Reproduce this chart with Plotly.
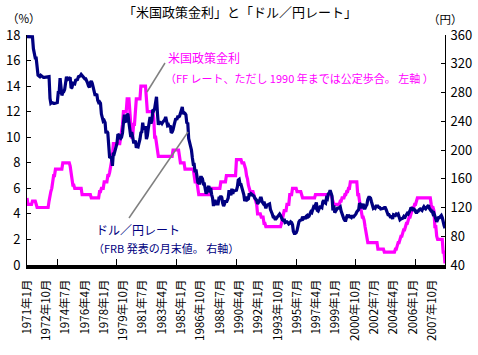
import pandas as pd
import plotly.graph_objects as go

# USD/JPY month-end rate (yen), 1971-01 .. 2008-12, one row per year
usdjpy = [
    357.7, 357.6, 357.5, 357.6, 357.5, 357.6, 357.4, 341, 330, 328, 328, 315,
    304, 303, 302, 304, 303, 301, 301, 301, 301, 301, 302, 302,
    302, 272, 265, 266, 265, 265, 265, 265, 266, 266, 280, 280,
    300, 287, 276, 280, 281, 284, 298, 302, 298, 299, 300, 301,
    286, 287, 293, 293, 292, 297, 297, 298, 302, 302, 303, 305,
    303, 301, 300, 299, 299, 297, 293, 289, 287, 294, 296, 293,
    288, 283, 277, 277, 278, 269, 266, 267, 265, 250, 244, 240,
    241, 238, 223, 226, 224, 205, 189, 190, 189, 178, 196, 195,
    200, 201, 209, 222, 221, 217, 216, 218, 224, 238, 249, 240,
    239, 250, 249, 238, 223, 218, 225, 215, 211, 211, 213, 203,
    206, 205, 209, 215, 224, 225, 238, 228, 231, 231, 215, 220,
    230, 236, 246, 237, 241, 256, 255, 258, 270, 274, 251, 235,
    240, 236, 239, 237, 239, 240, 242, 246, 236, 234, 235, 232,
    234, 224, 225, 228, 234, 238, 244, 242, 246, 246, 247, 251,
    255, 260, 250, 252, 251, 249, 237, 238, 216, 211, 202, 200,
    189, 180, 180, 169, 173, 165, 155, 154, 154, 162, 162, 160,
    153, 153, 146, 139, 144, 147, 150, 141, 147, 138, 133, 122,
    129, 129, 125, 125, 125, 133, 133, 136, 134, 126, 122, 125,
    130, 127, 132, 133, 144, 140, 137, 146, 139, 143, 143, 143,
    144, 149, 158, 159, 152, 152, 147, 144, 138, 129, 133, 135,
    131, 132, 140, 136, 139, 138, 137, 136, 133, 131, 130, 125,
    127, 129, 133, 133, 128, 126, 128, 123, 119, 123, 124, 124,
    125, 117, 115, 111, 107, 107, 104, 104, 106, 108, 109, 111,
    109, 104, 103, 102, 104, 99, 100, 100, 99, 97, 98, 100,
    99, 96, 87, 84, 84, 85, 88, 97, 100, 102, 102, 103,
    107, 105, 107, 104, 108, 109, 107, 108, 111, 114, 113, 116,
    121, 120, 124, 127, 116, 115, 118, 121, 121, 120, 128, 130,
    127, 126, 133, 132, 139, 140, 144, 141, 136, 116, 123, 113,
    116, 119, 119, 119, 121, 121, 115, 110, 106, 104, 102, 102,
    107, 110, 106, 108, 107, 106, 109, 106, 108, 109, 111, 114,
    116, 117, 126, 124, 119, 124, 125, 119, 119, 122, 124, 131,
    134, 134, 133, 128, 124, 119, 120, 119, 122, 122, 122, 120,
    120, 118, 118, 119, 119, 120, 120, 117, 111, 110, 110, 107,
    106, 109, 104, 110, 110, 109, 111, 110, 111, 106, 103, 104,
    104, 105, 107, 105, 108, 111, 112, 111, 113, 116, 120, 118,
    117, 118, 117, 114, 112, 115, 115, 117, 118, 117, 116, 119,
    121, 119, 118, 120, 122, 123, 119, 116, 115, 115, 111, 112,
    106, 104, 100, 104, 106, 106, 108, 109, 106, 98, 95, 91,
]

# US policy rate (%), discount rate until 1989, FF target from 1990
policy_rate = [
    5.25, 4.75, 4.75, 4.75, 4.75, 4.75, 5.0, 5.0, 5.0, 5.0, 4.75, 4.5,
    4.5, 4.5, 4.5, 4.5, 4.5, 4.5, 4.5, 4.5, 4.5, 4.5, 4.5, 4.5,
    5.0, 5.5, 5.75, 6.0, 6.5, 7.0, 7.0, 7.5, 7.5, 7.5, 7.5, 7.5,
    7.5, 7.5, 7.5, 8.0, 8.0, 8.0, 8.0, 8.0, 8.0, 8.0, 8.0, 7.75,
    7.25, 6.75, 6.25, 6.25, 6.0, 6.0, 6.0, 6.0, 6.0, 6.0, 6.0, 6.0,
    5.5, 5.5, 5.5, 5.5, 5.5, 5.5, 5.5, 5.5, 5.5, 5.5, 5.25, 5.25,
    5.25, 5.25, 5.25, 5.25, 5.25, 5.25, 5.25, 5.75, 5.75, 6.0, 6.0, 6.0,
    6.5, 6.5, 6.5, 6.5, 7.0, 7.0, 7.25, 7.75, 8.0, 8.5, 9.5, 9.5,
    9.5, 9.5, 9.5, 9.5, 9.5, 9.5, 10.0, 10.5, 11.0, 12.0, 12.0, 12.0,
    12.0, 13.0, 13.0, 13.0, 12.0, 11.0, 10.0, 10.0, 11.0, 11.0, 12.0, 13.0,
    13.0, 13.0, 13.0, 13.0, 14.0, 14.0, 14.0, 14.0, 14.0, 14.0, 13.0, 12.0,
    12.0, 12.0, 12.0, 12.0, 12.0, 12.0, 11.5, 10.0, 10.0, 9.5, 9.0, 8.5,
    8.5, 8.5, 8.5, 8.5, 8.5, 8.5, 8.5, 8.5, 8.5, 8.5, 8.5, 8.5,
    8.5, 8.5, 8.5, 9.0, 9.0, 9.0, 9.0, 9.0, 9.0, 9.0, 8.5, 8.0,
    8.0, 8.0, 8.0, 8.0, 7.5, 7.5, 7.5, 7.5, 7.5, 7.5, 7.5, 7.5,
    7.5, 7.5, 7.0, 6.5, 6.5, 6.5, 6.0, 5.5, 5.5, 5.5, 5.5, 5.5,
    5.5, 5.5, 5.5, 5.5, 5.5, 5.5, 5.5, 5.5, 6.0, 6.0, 6.0, 6.0,
    6.0, 6.0, 6.0, 6.0, 6.0, 6.0, 6.0, 6.5, 6.5, 6.5, 6.5, 6.5,
    6.5, 7.0, 7.0, 7.0, 7.0, 7.0, 7.0, 7.0, 7.0, 7.0, 7.0, 7.0,
    8.25, 8.25, 8.25, 8.25, 8.25, 8.25, 8.0, 8.0, 8.0, 7.75, 7.5, 7.0,
    6.75, 6.25, 6.0, 5.75, 5.75, 5.75, 5.75, 5.5, 5.25, 5.0, 4.75, 4.0,
    4.0, 4.0, 4.0, 3.75, 3.75, 3.75, 3.25, 3.25, 3.0, 3.0, 3.0, 3.0,
    3.0, 3.0, 3.0, 3.0, 3.0, 3.0, 3.0, 3.0, 3.0, 3.0, 3.0, 3.0,
    3.0, 3.25, 3.5, 3.75, 4.25, 4.25, 4.25, 4.75, 4.75, 4.75, 5.5, 5.5,
    5.5, 6.0, 6.0, 6.0, 6.0, 6.0, 5.75, 5.75, 5.75, 5.75, 5.75, 5.5,
    5.25, 5.25, 5.25, 5.25, 5.25, 5.25, 5.25, 5.25, 5.25, 5.25, 5.25, 5.25,
    5.25, 5.25, 5.5, 5.5, 5.5, 5.5, 5.5, 5.5, 5.5, 5.5, 5.5, 5.5,
    5.5, 5.5, 5.5, 5.5, 5.5, 5.5, 5.5, 5.5, 5.25, 5.0, 4.75, 4.75,
    4.75, 4.75, 4.75, 4.75, 4.75, 5.0, 5.0, 5.25, 5.25, 5.25, 5.5, 5.5,
    5.75, 5.75, 6.0, 6.0, 6.5, 6.5, 6.5, 6.5, 6.5, 6.5, 6.5, 6.5,
    5.5, 5.5, 5.0, 4.5, 4.0, 3.75, 3.75, 3.5, 3.0, 2.5, 2.0, 1.75,
    1.75, 1.75, 1.75, 1.75, 1.75, 1.75, 1.75, 1.75, 1.75, 1.75, 1.25, 1.25,
    1.25, 1.25, 1.25, 1.25, 1.25, 1.0, 1.0, 1.0, 1.0, 1.0, 1.0, 1.0,
    1.0, 1.0, 1.0, 1.0, 1.0, 1.25, 1.25, 1.5, 1.75, 1.75, 2.0, 2.25,
    2.25, 2.5, 2.75, 2.75, 3.0, 3.25, 3.25, 3.5, 3.75, 3.75, 4.0, 4.25,
    4.5, 4.5, 4.75, 4.75, 5.0, 5.25, 5.25, 5.25, 5.25, 5.25, 5.25, 5.25,
    5.25, 5.25, 5.25, 5.25, 5.25, 5.25, 5.25, 5.25, 4.75, 4.5, 4.5, 4.25,
    3.0, 3.0, 2.25, 2.0, 2.0, 2.0, 2.0, 2.0, 2.0, 1.0, 1.0, 0.125,
]

months = pd.date_range("1971-01-01", periods=len(usdjpy), freq="MS")
tick_dates = months[::21]
tick_text = [f"{d.year}年{d.month}月" for d in tick_dates]

left_ticks = list(range(0, 19, 2))
right_ticks = list(range(40, 361, 40))

FONT = "Noto Sans CJK JP"
NAVY = "#000080"
MAGENTA = "#FF00FF"

fig = go.Figure()
fig.add_trace(go.Scatter(x=months, y=policy_rate, mode="lines",
                         line=dict(color=MAGENTA, width=3.2), yaxis="y",
                         showlegend=False, hoverinfo="skip"))
fig.add_trace(go.Scatter(x=months, y=usdjpy, mode="lines",
                         line=dict(color=NAVY, width=3.2), yaxis="y2",
                         showlegend=False, hoverinfo="skip"))

L, R, T, B = 27, 33, 35, 90
W, H = 478, 355
pw, ph = W - L - R, H - T - B


def px(x):
    return (x - L) / pw


def py(y):
    return (H - B - y) / ph


fig.update_layout(
    width=W, height=H,
    margin=dict(l=L, r=R, t=T, b=B, pad=0, autoexpand=False),
    paper_bgcolor="white", plot_bgcolor="white",
    font=dict(family=FONT, color="black", size=12),
    xaxis=dict(
        range=[months[0], months[-1]], automargin=False,
        tickvals=tick_dates, ticktext=tick_text, tickangle=-90,
        ticks="", showgrid=False, zeroline=False,
        showline=True, linecolor="black", linewidth=4,
        tickfont=dict(size=11.5, family=FONT), ticklabelstandoff=6,
        minor=dict(ticks="inside", tick0="1973-10-01", dtick="M65",
                   ticklen=6, tickcolor="black", tickwidth=1, showgrid=False),
    ),
    yaxis=dict(
        range=[0, 18], tickvals=left_ticks, ticks="inside", ticklen=4,
        tickcolor="black", showgrid=False, zeroline=False, automargin=False,
        showline=True, linecolor="black", linewidth=1,
        tickfont=dict(size=13, family=FONT), ticklabelstandoff=3,
    ),
    yaxis2=dict(
        range=[40, 360], tickvals=right_ticks, ticks="inside", ticklen=4,
        tickcolor="black", showgrid=False, zeroline=False, overlaying="y",
        side="right", showline=True, linecolor="black", linewidth=1,
        automargin=False,
        tickfont=dict(size=13, family=FONT), ticklabelstandoff=2,
    ),
)

ann = [
    dict(text="「米国政策金利」と「ドル／円レート」", x=px(240), y=py(12), size=13,
         color="black", xanchor="center"),
    dict(text="（%）", x=px(24), y=py(18), size=11.5, color="black", xanchor="center"),
    dict(text="（円）", x=px(445), y=py(19), size=11.5, color="black", xanchor="center"),
    dict(text="米国政策金利", x=px(166), y=py(57), size=12, color=MAGENTA, xanchor="left"),
    dict(text="（FF レート、ただし 1990 年までは公定歩合。 左軸 ）", x=px(163), y=py(78),
         size=11, color=MAGENTA, xanchor="left"),
    dict(text="ドル／円レート", x=px(94), y=py(229), size=12, color=NAVY, xanchor="left"),
    dict(text="（FRB 発表の月末値。 右軸）", x=px(91), y=py(248), size=11, color=NAVY,
         xanchor="left"),
]
for a in ann:
    fig.add_annotation(text=a["text"], x=a["x"], y=a["y"], xref="paper", yref="paper",
                       xanchor=a["xanchor"], yanchor="middle", showarrow=False,
                       font=dict(size=a["size"], color=a["color"], family=FONT))

for (x0, y0, x1, y1) in [(147, 92, 165, 63), (129, 218, 188, 132)]:
    fig.add_shape(type="line", xref="paper", yref="paper",
                  x0=px(x0), y0=py(y0), x1=px(x1), y1=py(y1),
                  line=dict(color="#808080", width=1.5))

fig.write_html("out.html", config={"displayModeBar": False},
               post_script="document.body.style.margin='0';document.body.style.padding='0';")
